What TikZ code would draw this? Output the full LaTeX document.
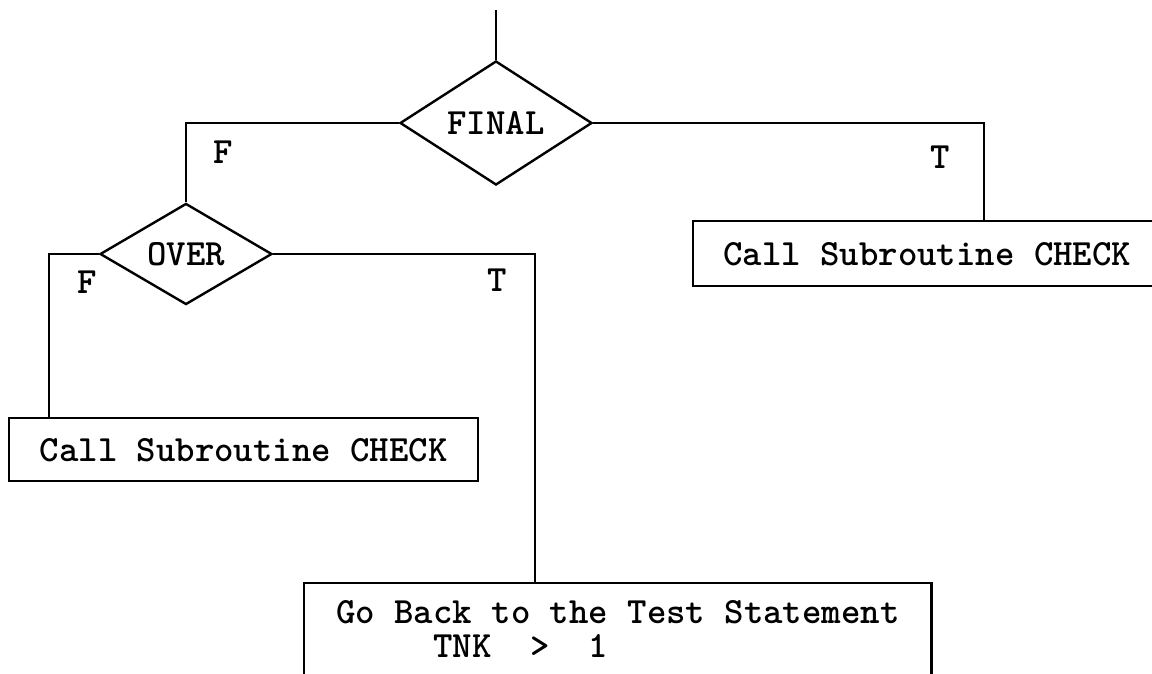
\documentclass[tikz,border=0pt]{standalone}
\usepackage{tikz}
\usetikzlibrary{shapes.geometric,positioning,calc}

\begin{document}
\begin{tikzpicture}[x=0.5pt, y=-0.5pt, line width=1.2pt,
    font=\ttfamily\bfseries\fontsize{18.5}{17}\selectfont,
    test/.style={diamond, draw, inner sep=0pt},
    box/.style={rectangle, draw, inner ysep=0pt}]
    \useasboundingbox (0,0) rectangle (1152,674);
    \clip (0,0) rectangle (1152,674);

    % FINAL test
    \coordinate (top) at (496,10);
    \node[test, minimum width=96pt, minimum height=62pt] (final) at (496,123) {FINAL};
    \draw (top) -- (final.north);

    % T branch
    \node[box, anchor=north west, inner xsep=15pt, minimum height=32.5pt] (check1) at (692,220) {Call Subroutine CHECK};
    \draw (final.east) -| ([xshift=28.5pt]check1.north);
    \node (t1) at (940,157) {T};

    % F branch -> OVER test
    \node[test, minimum width=86pt, minimum height=50pt] (over) at (186,254) {OVER};
    \draw (final.west) -| (over.north);
    \node (f1) at (223,152) {F};

    % OVER false
    \node[box, anchor=north west, minimum width=234.5pt, minimum height=31.5pt] (check2) at (8,417) {Call Subroutine CHECK};
    \draw (over.west) -| ([xshift=20.5pt]check2.north west);
    \node (f2) at (87,282) {F};

    % OVER true
    \node[box, anchor=north west, inner xsep=16pt, inner ysep=8.5pt, text depth=40pt, align=left] (goback) at (303,582)
        {Go Back to the Test Statement\\\ \ \ \ \ TNK\ \ >\ \ 1};
    \draw (over.east) -| ([xshift=116pt]goback.north west);
    \node (t2) at (497,280) {T};
\end{tikzpicture}
\end{document}
